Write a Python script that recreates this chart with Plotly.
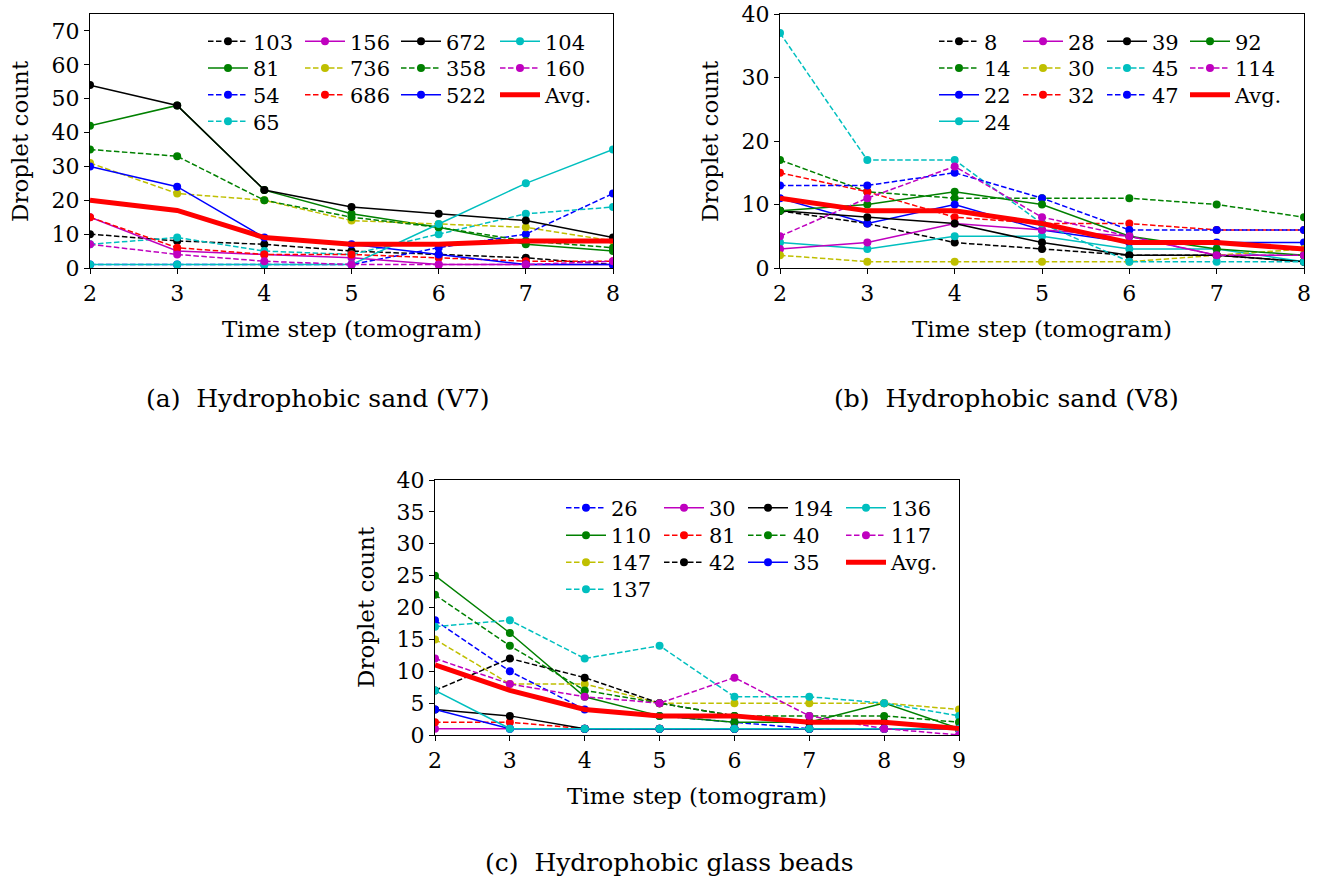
import plotly.graph_objects as go

# ---------------- data ----------------
steps_v7 = [2, 3, 4, 5, 6, 7, 8]
v7_103 = [10, 8, 7, 5, 4, 3, 1]
v7_81 = [42, 48, 23, 16, 12, 7, 5]
v7_54 = [1, 1, 1, 1, 6, 10, 22]
v7_65 = [7, 9, 5, 4, 10, 16, 18]
v7_156 = [15, 5, 4, 3, 1, 1, 1]
v7_736 = [31, 22, 20, 14, 13, 12, 8]
v7_686 = [15, 6, 4, 4, 3, 2, 2]
v7_672 = [54, 48, 23, 18, 16, 14, 9]
v7_358 = [35, 33, 20, 15, 12, 8, 6]
v7_522 = [30, 24, 9, 7, 4, 1, 1]
v7_104 = [1, 1, 1, 1, 13, 25, 35]
v7_160 = [7, 4, 2, 1, 1, 1, 2]
v7_avg = [20, 17, 9, 7, 7, 8, 8]

steps_v8 = [2, 3, 4, 5, 6, 7, 8]
v8_8 = [9, 7, 4, 3, 2, 2, 1]
v8_14 = [17, 12, 11, 11, 11, 10, 8]
v8_22 = [11, 7, 10, 6, 4, 4, 4]
v8_24 = [4, 3, 5, 5, 3, 3, 1]
v8_28 = [3, 4, 7, 6, 5, 2, 2]
v8_30 = [2, 1, 1, 1, 1, 2, 3]
v8_32 = [15, 12, 8, 7, 7, 6, 6]
v8_39 = [9, 8, 7, 4, 2, 2, 1]
v8_45 = [37, 17, 17, 7, 1, 1, 1]
v8_47 = [13, 13, 15, 11, 6, 6, 6]
v8_92 = [9, 10, 12, 10, 5, 3, 2]
v8_114 = [5, 11, 16, 8, 5, 2, 2]
v8_avg = [11, 9, 9, 7, 4, 4, 3]

steps_gb = [2, 3, 4, 5, 6, 7, 8, 9]
gb_26 = [18, 10, 4, 3, 2, 1, 1, 1]
gb_110 = [25, 16, 6, 3, 2, 2, 5, 1]
gb_147 = [15, 8, 8, 5, 5, 5, 5, 4]
gb_137 = [17, 18, 12, 14, 6, 6, 5, 3]
gb_30 = [1, 1, 1, 1, 1, 1, 1, 1]
gb_81 = [2, 2, 1, 1, 1, 1, 1, 1]
gb_42 = [7, 12, 9, 5, 3, 2, 2, 1]
gb_194 = [4, 3, 1, 1, 1, 1, 1, 1]
gb_40 = [22, 14, 7, 5, 3, 3, 3, 2]
gb_35 = [4, 1, 1, 1, 1, 1, 1, 1]
gb_136 = [7, 1, 1, 1, 1, 1, 1, 1]
gb_117 = [12, 8, 6, 5, 9, 3, 1, 0]
gb_avg = [11, 7, 4, 3, 3, 2, 2, 1]

captions = ["(a)\u00a0 Hydrophobic sand (V7)",
            "(b)\u00a0 Hydrophobic sand (V8)",
            "(c)\u00a0 Hydrophobic glass beads"]

# ---------------- styling ----------------
W, H = 1320, 878
FONT = "DejaVu Serif"
FS_LEG = 21
FS_TICK = 22
FS_TITLE = 23
FS_CAP = 25
K, G, B, C, M, Y, R = "#000000", "#008000", "#0000ff", "#00bfbf", "#bf00bf", "#bfbf00", "#ff0000"
DASH = "5.5px,2.5px"

panels = [
    dict(ax="", x=steps_v7, ymax=75, dy=10, box=(90, 613, 14, 268),
         series=[("103", v7_103, K, DASH), ("81", v7_81, G, "solid"), ("54", v7_54, B, DASH),
                 ("65", v7_65, C, DASH), ("156", v7_156, M, "solid"), ("736", v7_736, Y, DASH),
                 ("686", v7_686, R, DASH), ("672", v7_672, K, "solid"), ("358", v7_358, G, DASH),
                 ("522", v7_522, B, "solid"), ("104", v7_104, C, "solid"), ("160", v7_160, M, DASH)],
         avg=v7_avg, cols=[208, 305, 401, 500], rows=[41.7, 68.3, 95, 121.7],
         ylab=(20, 141), cap=(318, 398)),
    dict(ax="2", x=steps_v8, ymax=40, dy=10, box=(780, 1304, 14, 268),
         series=[("8", v8_8, K, DASH), ("14", v8_14, G, DASH), ("22", v8_22, B, "solid"),
                 ("24", v8_24, C, "solid"), ("28", v8_28, M, "solid"), ("30", v8_30, Y, DASH),
                 ("32", v8_32, R, DASH), ("39", v8_39, K, "solid"), ("45", v8_45, C, DASH),
                 ("47", v8_47, B, DASH), ("92", v8_92, G, "solid"), ("114", v8_114, M, DASH)],
         avg=v8_avg, cols=[939, 1023, 1107, 1190], rows=[41.7, 68.3, 95, 121.7],
         ylab=(710, 141), cap=(1006, 398)),
    dict(ax="3", x=steps_gb, ymax=40, dy=5, box=(435, 959, 480, 735),
         series=[("26", gb_26, B, DASH), ("110", gb_110, G, "solid"), ("147", gb_147, Y, DASH),
                 ("137", gb_137, C, DASH), ("30", gb_30, M, "solid"), ("81", gb_81, R, DASH),
                 ("42", gb_42, K, DASH), ("194", gb_194, K, "solid"), ("40", gb_40, G, DASH),
                 ("35", gb_35, B, "solid"), ("136", gb_136, C, "solid"), ("117", gb_117, M, DASH)],
         avg=gb_avg, cols=[566, 664, 748, 846], rows=[508, 535.5, 562.5, 589.5],
         ylab=(366, 607), cap=(669, 862)),
]

fig = go.Figure()
layout = dict(width=W, height=H, margin=dict(l=0, r=0, t=0, b=0, autoexpand=False),
              paper_bgcolor="white", plot_bgcolor="white",
              font=dict(family=FONT, size=FS_LEG, color="black"),
              annotations=[])

legend_no = 0


def slot(i):
    # column-major placement of 13 entries in 4 columns (4,3,3,3)
    if i < 4:
        return 0, i
    return 1 + (i - 4) // 3, (i - 4) % 3


for p in panels:
    xa, ya = "x" + p["ax"], "y" + p["ax"]
    entries = [(n, v, c, d, False) for n, v, c, d in p["series"]] + [("Avg.", p["avg"], R, "solid", True)]
    for i, (name, vals, col, dash, is_avg) in enumerate(entries):
        legend_no += 1
        lname = "legend" if legend_no == 1 else f"legend{legend_no}"
        if is_avg:
            tr = go.Scatter(x=p["x"], y=vals, name=name, mode="lines",
                            line=dict(color=col, width=5))
        else:
            tr = go.Scatter(x=p["x"], y=vals, name=name, mode="lines+markers",
                            line=dict(color=col, width=1.5, dash=dash),
                            marker=dict(color=col, size=8))
        tr.update(xaxis=xa, yaxis=ya, legend=lname, showlegend=True)
        fig.add_trace(tr)
        c_i, r_i = slot(i)
        layout[lname] = dict(x=(p["cols"][c_i] - 5) / W, y=1 - p["rows"][r_i] / H,
                             xanchor="left", yanchor="middle",
                             bgcolor="rgba(0,0,0,0)", borderwidth=0,
                             itemwidth=40, tracegroupgap=0,
                             font=dict(family=FONT, size=FS_LEG, color="black"))

    x0, x1, y0, y1 = p["box"]
    axis_common = dict(showline=True, mirror=True, linecolor="black", linewidth=1.2,
                       ticks="outside", ticklen=5, tickwidth=1.2, tickcolor="black",
                       showgrid=False, zeroline=False, automargin=False,
                       tickfont=dict(family=FONT, size=FS_TICK, color="black"))
    layout["xaxis" + p["ax"]] = dict(domain=[x0 / W, x1 / W], anchor=ya,
                                     range=[p["x"][0], p["x"][-1]], dtick=1, **axis_common)
    layout["yaxis" + p["ax"]] = dict(domain=[1 - y1 / H, 1 - y0 / H], anchor=xa,
                                     range=[0, p["ymax"]], dtick=p["dy"], **axis_common)

    layout["annotations"] += [
        dict(text="Time step (tomogram)", x=(x0 + x1) / 2 / W, y=1 - (y1 + 61) / H,
             xref="paper", yref="paper", showarrow=False, xanchor="center", yanchor="middle",
             font=dict(family=FONT, size=FS_TITLE)),
        dict(text="Droplet count", x=p["ylab"][0] / W, y=1 - p["ylab"][1] / H, textangle=-90,
             xref="paper", yref="paper", showarrow=False, xanchor="center", yanchor="middle",
             font=dict(family=FONT, size=FS_TITLE)),
    ]

for cap, p in zip(captions, panels):
    layout["annotations"].append(
        dict(text=cap, x=p["cap"][0] / W, y=1 - p["cap"][1] / H, xref="paper", yref="paper",
             showarrow=False, xanchor="center", yanchor="middle",
             font=dict(family=FONT, size=FS_CAP)))

fig.update_layout(**layout)
fig.write_html("out.html")
